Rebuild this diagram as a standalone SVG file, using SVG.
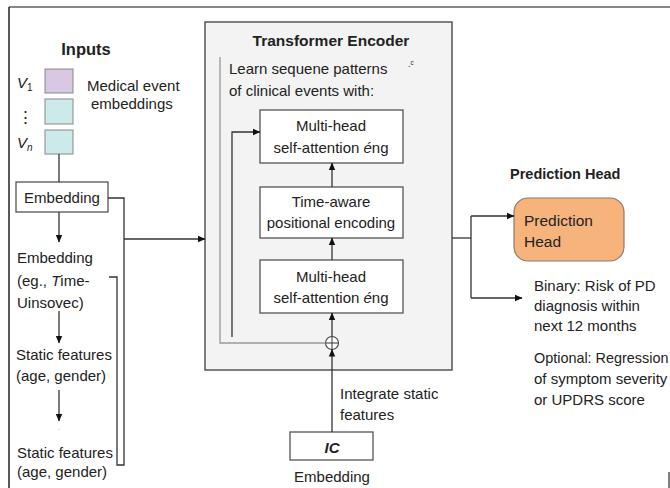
<svg xmlns="http://www.w3.org/2000/svg" width="670" height="488" viewBox="0 0 670 488">
<defs>
<marker id="ah" markerWidth="8" markerHeight="8" refX="7" refY="4" orient="auto" markerUnits="userSpaceOnUse">
<path d="M0,0.8 L7.5,4 L0,7.2 Z" fill="#111"/>
</marker>
</defs>
<style>
text{font-family:"Liberation Sans",Arial,sans-serif;fill:#222;}
.t{font-size:15px;}
.b{font-weight:bold;}
.box{fill:#fff;stroke:#555;stroke-width:1.3;}
.ln{fill:none;stroke:#333;stroke-width:1.3;}
.lg{fill:none;stroke:#999;stroke-width:1.3;}
.c{text-anchor:middle;}
</style>
<rect width="670" height="488" fill="#fff"/>
<g id="frame">
<line x1="9" y1="7" x2="670" y2="7" stroke="#888" stroke-width="2"/>
<line x1="9" y1="7" x2="9" y2="488" stroke="#222" stroke-width="1.5"/>
<line x1="669" y1="472" x2="669" y2="488" stroke="#555" stroke-width="1.5"/>
</g>
<g id="inputs">
<text x="86" y="55" class="c b" font-size="16.5" fill="#333">Inputs</text>
<text x="17" y="88" font-size="15" font-style="italic">V<tspan font-size="10" dy="3" font-style="normal">1</tspan></text>
<text x="25" y="123" font-size="17" class="c" font-family="'DejaVu Sans',sans-serif">⋮</text>
<text x="17" y="148" font-size="15" font-style="italic">V<tspan font-size="10" dy="3">n</tspan></text>
<rect x="45" y="69" width="28" height="24" fill="#d8c8e4" stroke="#888" stroke-width="1"/>
<rect x="45" y="99" width="28" height="25" fill="#cdeaea" stroke="#888" stroke-width="1"/>
<rect x="45" y="130" width="28" height="24" fill="#cdeaea" stroke="#888" stroke-width="1"/>
<text x="87" y="91" class="t">Medical event</text>
<text x="91" y="109" class="t">embeddings</text>
</g>
<g id="embedding-box">
<rect x="16" y="182" width="92" height="30" class="box"/>
<text x="62" y="203" class="t c">Embedding</text>
</g>
<g id="left-column">
<text x="17" y="263" class="t">Embedding</text>
<text x="17" y="286" class="t">(eg., <tspan font-style="italic">T</tspan>ime-</text>
<text x="17" y="308" class="t">Uinsovec)</text>
<text x="16" y="360" class="t">Static features</text>
<text x="16" y="381" class="t">(age, gender)</text>
<text x="17" y="458" class="t">Static features</text>
<text x="17" y="477" class="t">(age, gender)</text>
<text x="58" y="430" font-size="6" fill="#999">.</text>
</g>
<g id="encoder">
<rect x="205" y="22" width="247" height="348" fill="#f3f3f3" stroke="#555" stroke-width="1.5"/>
<text x="331" y="46" class="c b" font-size="15.5">Transformer Encoder</text>
<text x="229" y="74" class="t">Learn sequene patterns</text>
<text x="408" y="67" font-size="9" fill="#555">.ᶜ</text>
<text x="229" y="96" class="t">of clinical events with:</text>
</g>
<g id="mha-top">
<rect x="260" y="110" width="143" height="53" class="box"/>
<text x="331" y="131" class="t c">Multi-head</text>
<text x="331" y="153" class="t c">self-attention <tspan font-style="italic">é</tspan>ng</text>
</g>
<g id="pos-enc">
<rect x="260" y="187" width="143" height="51" class="box"/>
<text x="331" y="207" class="t c">Time-aware</text>
<text x="331" y="228" class="t c">positional encoding</text>
</g>
<g id="mha-bottom">
<rect x="260" y="260" width="143" height="53" class="box"/>
<text x="331" y="282" class="t c">Multi-head</text>
<text x="331" y="303" class="t c">self-attention <tspan font-style="italic">é</tspan>ng</text>
</g>
<g id="plus">
<circle cx="332" cy="343" r="6.5" fill="#fff" stroke="#444" stroke-width="1.1"/>
<line x1="325.5" y1="343" x2="338.5" y2="343" stroke="#444" stroke-width="1.1"/>
<line x1="332" y1="336.5" x2="332" y2="349.5" stroke="#444" stroke-width="1.1"/>
</g>
<g id="ic">
<rect x="290" y="432" width="83" height="28" class="box"/>
<text x="332" y="453" class="c b" font-size="15" font-style="italic">IC</text>
<text x="332" y="482" class="t c">Embedding</text>
<text x="340" y="399" class="t">Integrate static</text>
<text x="340" y="420" class="t">features</text>
</g>
<g id="prediction">
<text x="510" y="179" class="b" font-size="14.5">Prediction Head</text>
<rect x="514" y="198" width="110" height="63" rx="14" fill="#f6b47c" stroke="#8a7a6a" stroke-width="1.2"/>
<text x="524" y="226" font-size="15.5" fill="#333">Prediction</text>
<text x="524" y="247" font-size="15.5" fill="#333">Head</text>
<text x="534" y="291" class="t">Binary: Risk of PD</text>
<text x="534" y="311" class="t">diagnosis within</text>
<text x="534" y="331" class="t">next 12 months</text>
<text x="534" y="363" font-size="14.4">Optional: Regression</text>
<text x="534" y="384" class="t">of symptom severity</text>
<text x="534" y="405" class="t">or UPDRS score</text>
</g>
<g id="connectors">
<line x1="59" y1="154" x2="59" y2="182" class="ln"/>
<line x1="59" y1="212" x2="59" y2="242" class="ln" marker-end="url(#ah)"/>
<line x1="59" y1="311" x2="59" y2="343" class="ln" marker-end="url(#ah)"/>
<line x1="59" y1="390" x2="59" y2="421" class="ln" marker-end="url(#ah)"/>
<path d="M109,277 H117 V465 H124 V198 H108" class="ln"/>
<line x1="124" y1="239" x2="205" y2="239" class="ln" marker-end="url(#ah)"/>
<path d="M220,57 V343 H325.5" class="lg"/>
<path d="M232,337 V132 H260" class="ln" marker-end="url(#ah)"/>
<line x1="332" y1="187" x2="332" y2="163" class="ln" marker-end="url(#ah)"/>
<line x1="332" y1="260" x2="332" y2="238" class="ln" marker-end="url(#ah)"/>
<line x1="332" y1="336.5" x2="332" y2="313" class="ln" marker-end="url(#ah)"/>
<line x1="332" y1="432" x2="332" y2="349.5" class="ln" marker-end="url(#ah)"/>
<path d="M452,238 H471" class="ln"/>
<path d="M471,216 V298" class="ln"/>
<line x1="471" y1="216" x2="514" y2="216" class="ln" marker-end="url(#ah)"/>
<line x1="471" y1="298" x2="522" y2="298" class="ln" marker-end="url(#ah)"/>
</g>
</svg>
